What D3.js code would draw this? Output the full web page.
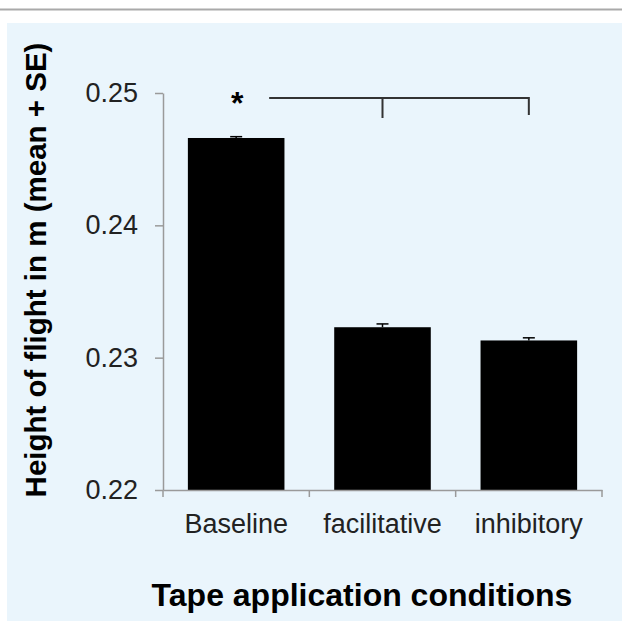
<!DOCTYPE html>
<html>
<head>
<meta charset="utf-8">
<script src="https://cdn.jsdelivr.net/npm/d3@7"></script>
<style>
  html, body { margin: 0; padding: 0; background: #ffffff; }
  svg { display: block; }
  text { font-family: "Liberation Sans", Arial, Helvetica, sans-serif; }
</style>
</head>
<body>
<svg id="chart" width="622" height="621"></svg>
<script>
const categories = ["Baseline", "facilitative", "inhibitory"];
const means = [0.2466, 0.2323, 0.2313];
const se = [0.0001, 0.00025, 0.0002];
const yTicks = [0.22, 0.23, 0.24, 0.25];
const yTickLabels = ["0.22", "0.23", "0.24", "0.25"];
const yTitle = "Height of flight in m (mean + SE)";
const xTitle = "Tape application conditions";

const svg = d3.select("#chart");
const W = 622, H = 621;

// top rule and panel
svg.append("rect").attr("x", 0).attr("y", 0).attr("width", W).attr("height", H).attr("fill", "#ffffff");
svg.append("line").attr("x1", 0).attr("x2", W).attr("y1", 9.5).attr("y2", 9.5)
  .attr("stroke", "#a9a9a9").attr("stroke-width", 2);
svg.append("rect").attr("x", 7).attr("y", 23).attr("width", W - 7).attr("height", H - 23)
  .attr("fill", "#eaf5fc");

const x = d3.scaleBand().domain(categories).range([163, 602]).paddingInner(0.34).paddingOuter(0.17);
const y = d3.scaleLinear().domain([0.22, 0.25]).range([490, 93]);

// bars
svg.append("g").selectAll("rect").data(categories).join("rect")
  .attr("x", d => x(d))
  .attr("y", (d, i) => y(means[i]))
  .attr("width", x.bandwidth())
  .attr("height", (d, i) => y(0.22) - y(means[i]))
  .attr("fill", "#000000");

// error bars (upper only)
const eb = svg.append("g").attr("stroke", "#000").attr("stroke-width", 1.5);
categories.forEach((c, i) => {
  const cx = x(c) + x.bandwidth() / 2;
  eb.append("line").attr("x1", cx).attr("x2", cx).attr("y1", y(means[i])).attr("y2", y(means[i] + se[i]));
  eb.append("line").attr("x1", cx - 6).attr("x2", cx + 6).attr("y1", y(means[i] + se[i])).attr("y2", y(means[i] + se[i]));
});

// y axis
const yAxis = d3.axisLeft(y).tickValues(yTicks).tickFormat((d, i) => yTickLabels[i]).tickSize(8).tickSizeOuter(0);
const gy = svg.append("g").attr("transform", "translate(163,0)").call(yAxis);
gy.attr("font-size", null).attr("font-family", null);
gy.select(".domain").attr("stroke", "#9a9a9a").attr("stroke-width", 1.5);
gy.selectAll(".tick line").attr("stroke", "#9a9a9a").attr("stroke-width", 1.5);
gy.selectAll(".tick text").attr("font-size", 27).attr("fill", "#222").attr("x", -25)
  .style("font-family", "'Liberation Sans', Arial, sans-serif");

// x axis
const xAxis = d3.axisBottom(x).tickSize(0).tickSizeOuter(0);
const gx = svg.append("g").attr("transform", "translate(0,490)").call(xAxis);
gx.attr("font-size", null).attr("font-family", null);
gx.select(".domain").attr("stroke", "#9a9a9a").attr("stroke-width", 1.5);
gx.selectAll(".tick text").attr("font-size", 27).attr("fill", "#222").attr("dy", "0").attr("y", 43)
  .style("font-family", "'Liberation Sans', Arial, sans-serif");
// category boundary ticks
const step = x.step();
const bounds = [163].concat(categories.map(c => x(c) + x.bandwidth() + step * x.paddingInner() / 2));
bounds[bounds.length - 1] = 602;
svg.append("g").selectAll("line").data(bounds).join("line")
  .attr("x1", d => d).attr("x2", d => d).attr("y1", 490).attr("y2", 497)
  .attr("stroke", "#9a9a9a").attr("stroke-width", 1.5);

// significance bracket
const br = svg.append("g").attr("stroke", "#333").attr("stroke-width", 2).attr("fill", "none");
const bx1 = x(categories[0]) + x.bandwidth() / 2 + 33;
const bx2 = x(categories[1]) + x.bandwidth() / 2;
const bx3 = x(categories[2]) + x.bandwidth() / 2;
br.append("path").attr("d", `M${bx1},98 H${bx3} V115 M${bx2},98 V118`);
svg.append("text").attr("x", x(categories[0]) + x.bandwidth() / 2 + 1).attr("y", 114)
  .attr("text-anchor", "middle").attr("font-size", 32).attr("font-weight", "bold").text("*");

// axis titles
svg.append("text").attr("transform", "translate(46,270) rotate(-90)")
  .attr("text-anchor", "middle").attr("font-size", 29.5).attr("font-weight", "bold").attr("fill", "#000")
  .text(yTitle);
svg.append("text").attr("x", 362).attr("y", 606)
  .attr("text-anchor", "middle").attr("font-size", 32).attr("font-weight", "bold").attr("fill", "#000")
  .text(xTitle);
</script>
</body>
</html>
